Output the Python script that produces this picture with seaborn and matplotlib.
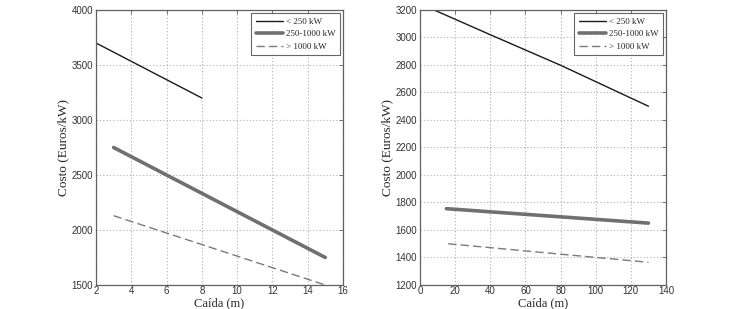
import matplotlib
matplotlib.use("Agg")
import matplotlib.pyplot as plt
import seaborn as sns
import pandas as pd

sns.set_style("white")

# Left panel data (Caída 2-16 m)
left_small_x = [2, 8]
left_small_y = [3700, 3200]
left_mid_x = [3, 15]
left_mid_y = [2750, 1750]
left_big_x = [3, 15]
left_big_y = [2130, 1500]

# Right panel data (Caída 0-140 m)
right_small_x = [8, 40, 80, 130]
right_small_y = [3200, 3020, 2798, 2500]
right_mid_x = [15, 130]
right_mid_y = [1755, 1650]
right_big_x = [16, 130]
right_big_y = [1500, 1365]

series_names = ["< 250 kW", "250-1000 kW", "> 1000 kW"]
xlabel = "Caída (m)"
ylabel = "Costo (Euros/kW)"

styles = {
    "< 250 kW": dict(color="#1a1a1a", lw=1.0, ls="-"),
    "250-1000 kW": dict(color="#707070", lw=2.6, ls="-"),
    "> 1000 kW": dict(color="#7a7a7a", lw=1.0, ls=(0, (6, 3))),
}

fig = plt.figure(figsize=(7.36, 3.09), dpi=100)
axL = fig.add_axes([0.1304, 0.0777, 0.3356, 0.890])
axR = fig.add_axes([0.5707, 0.0777, 0.3342, 0.890])

def draw(ax, data, xlim, ylim, xticks, yticks):
    for name, (xs, ys) in zip(series_names, data):
        df = pd.DataFrame({"x": xs, "y": ys})
        st = styles[name]
        sns.lineplot(data=df, x="x", y="y", ax=ax, color=st["color"],
                     linewidth=st["lw"], linestyle=st["ls"], label=name,
                     estimator=None, sort=False)
    ax.set_xlim(*xlim)
    ax.set_ylim(*ylim)
    ax.set_xticks(xticks)
    ax.set_yticks(yticks)
    ax.grid(True, color="#b0b0b0", linestyle=(0, (1, 2)), linewidth=0.8)
    for sp in ax.spines.values():
        sp.set_color("#606060")
        sp.set_linewidth(0.9)
    ax.tick_params(direction="in", length=3, width=0.6, colors="#606060",
                   labelsize=7, top=True, right=True, pad=2)
    ax.tick_params(axis="x", pad=1)
    for lab in ax.get_xticklabels() + ax.get_yticklabels():
        lab.set_color("#333333")
        lab.set_family("Liberation Sans")
    ax.set_xlabel(xlabel, family="Liberation Serif", fontsize=9, va="center")
    ax.xaxis.set_label_coords(0.5, -0.068)
    ax.set_ylabel(ylabel, family="Liberation Serif", fontsize=9.5, labelpad=2)
    leg = ax.legend(loc="upper right", frameon=True, fancybox=False,
                    prop={"family": "Liberation Serif", "size": 6.5},
                    handlelength=3.0, borderpad=0.5, labelspacing=0.45,
                    handletextpad=0.3, borderaxespad=0.35)
    leg.get_frame().set_edgecolor("#404040")
    leg.get_frame().set_linewidth(0.8)

draw(axL, [(left_small_x, left_small_y), (left_mid_x, left_mid_y),
           (left_big_x, left_big_y)],
     (2, 16), (1500, 4000), list(range(2, 17, 2)), list(range(1500, 4001, 500)))
draw(axR, [(right_small_x, right_small_y), (right_mid_x, right_mid_y),
           (right_big_x, right_big_y)],
     (0, 140), (1200, 3200), list(range(0, 141, 20)), list(range(1200, 3201, 200)))

fig.savefig("out.png", dpi=100)
